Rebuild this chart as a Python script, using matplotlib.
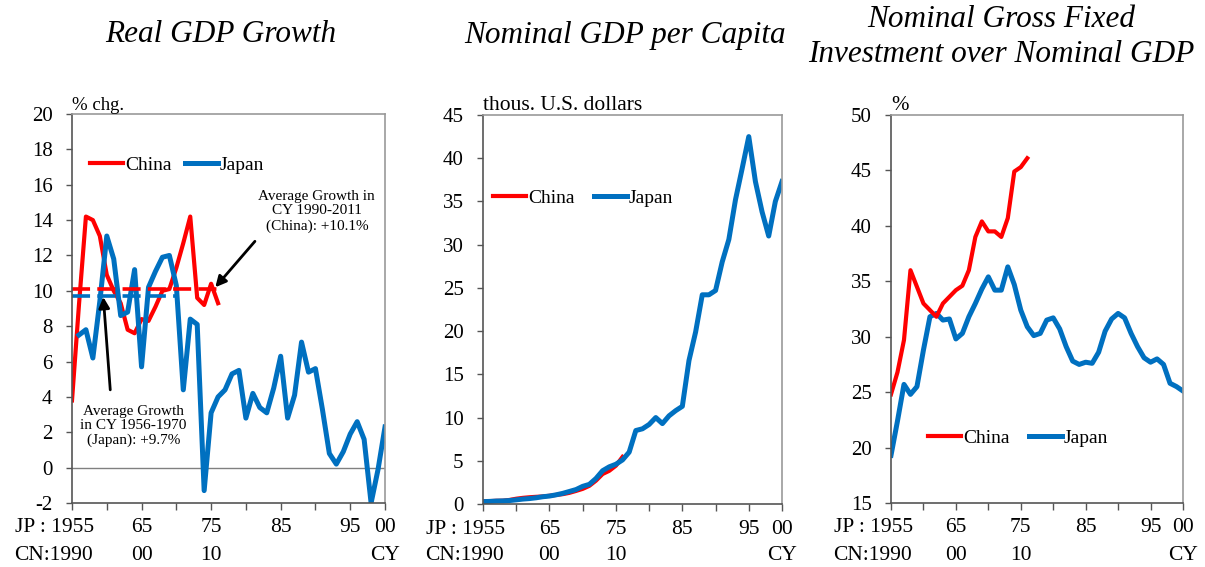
import numpy as np
import matplotlib
matplotlib.use("Agg")
import matplotlib.pyplot as plt
import matplotlib.transforms as mtransforms

plt.rcParams['font.family'] = ['Liberation Serif', 'DejaVu Serif']

# ---------------- data ----------------
jp_years = list(range(1955, 2001))
cn_years = list(range(1990, 2012))
cn_offset = 35  # China year 1990 aligned with Japan year 1955

jp_growth_years = list(range(1956, 2001))
jp_growth = [7.5, 7.8, 6.2, 9.4, 13.1, 11.8, 8.6, 8.8, 11.2, 5.7,
             10.2, 11.1, 11.9, 12.0, 10.3, 4.4, 8.4, 8.1, -1.3, 3.1,
             4.0, 4.4, 5.3, 5.5, 2.8, 4.2, 3.4, 3.1, 4.5, 6.3,
             2.8, 4.1, 7.1, 5.4, 5.6, 3.3, 0.8, 0.2, 0.9, 1.9,
             2.6, 1.6, -2.0, -0.1, 2.3]
cn_growth = [3.8, 9.2, 14.2, 14.0, 13.1, 10.9, 10.0, 9.3, 7.8, 7.6,
             8.4, 8.3, 9.1, 10.0, 10.1, 11.3, 12.7, 14.2, 9.6, 9.2,
             10.4, 9.3]
cn_avg = 10.1
jp_avg = 9.7
cn_avg_span = [1990, 2011]
jp_avg_span = [1955, 1970]

jp_gdppc = [0.27, 0.30, 0.34, 0.36, 0.40, 0.48, 0.57, 0.63, 0.72, 0.84,
            0.92, 1.06, 1.23, 1.45, 1.67, 2.04, 2.27, 2.95, 3.85, 4.30,
            4.60, 5.10, 6.00, 8.50, 8.70, 9.20, 10.0, 9.30, 10.2, 10.8,
            11.3, 16.6, 19.9, 24.2, 24.2, 24.7, 28.0, 30.6, 35.2, 38.8,
            42.5, 37.3, 33.8, 31.0, 35.0, 37.3]
cn_gdppc = [0.32, 0.33, 0.37, 0.38, 0.47, 0.61, 0.71, 0.78, 0.83, 0.87,
            0.95, 1.05, 1.14, 1.29, 1.51, 1.75, 2.10, 2.70, 3.47, 3.84,
            4.43, 5.45]

jp_inv = [19.3, 22.4, 25.7, 24.8, 25.5, 28.8, 31.8, 32.1, 31.5, 31.6,
          29.8, 30.3, 31.8, 33.0, 34.3, 35.4, 34.2, 34.2, 36.3, 34.7,
          32.4, 30.9, 30.1, 30.3, 31.5, 31.7, 30.7, 29.1, 27.8, 27.5,
          27.7, 27.6, 28.6, 30.5, 31.6, 32.1, 31.7, 30.3, 29.1, 28.1,
          27.7, 28.0, 27.5, 25.8, 25.5, 25.1]
cn_inv = [24.8, 26.8, 29.7, 36.0, 34.5, 33.0, 32.4, 31.8, 33.0, 33.6,
          34.2, 34.6, 36.0, 39.0, 40.4, 39.5, 39.5, 39.0, 40.7, 44.9,
          45.3, 46.1]

titles = ["Real GDP Growth", "Nominal GDP per Capita",
          "Nominal Gross Fixed\nInvestment over Nominal GDP"]
units = ["% chg.", "thous. U.S. dollars", "%"]
unit_sizes = [13.5, 15.5, 15]
jp_row = ["JP : 1955", "65", "75", "85", "95", "00"]
jp_row_pos = [1955, 1965, 1975, 1985, 1995, 2000]
cn_row = ["CN:1990", "00", "10", "CY"]
cn_row_pos = [1955, 1965, 1975, 2000]

RED = '#FF0000'
BLUE = '#0070C0'

W, H = 1205, 567
fig = plt.figure(figsize=(W / 100, H / 100), dpi=100)

def px_axes(l, t, r, b):
    return fig.add_axes([l / W, 1 - b / H, (r - l) / W, (b - t) / H])

ax1 = px_axes(72, 114, 385, 503)
ax2 = px_axes(483, 115, 782, 504)
ax3 = px_axes(891, 115, 1183, 503)

cn_x = [y - cn_offset for y in cn_years]

def style(ax, ylim, yticks, unit, usize, title_xy, title):
    ax.set_xlim(1955, 2000)
    ax.set_ylim(*ylim)
    ax.set_yticks(yticks)
    ax.set_yticklabels([str(v) for v in yticks], fontsize=15)
    ax.set_xticks(list(range(1955, 2001, 5)))
    ax.set_xticklabels([])
    ax.tick_params(axis='y', direction='out', length=4, width=1, pad=10, color='#555555')
    ax.tick_params(axis='x', direction='out', length=5, width=1, color='#555555')
    for s in ['left', 'bottom']:
        ax.spines[s].set_color('#555555')
        ax.spines[s].set_linewidth(1.2)
    for s in ['top', 'right']:
        ax.spines[s].set_color('#999999')
        ax.spines[s].set_linewidth(1.2)
    ax.text(0.0, 1.0, unit, transform=ax.transAxes, ha='left', va='bottom',
            fontsize=usize)
    trans = mtransforms.blended_transform_factory(ax.transData, ax.transAxes)
    for lab, pos in zip(jp_row, jp_row_pos):
        if pos == 1955:
            ax.annotate(lab, xy=(pos, 0), xycoords=trans, xytext=(22, -25),
                        textcoords='offset pixels', ha='right', va='center', fontsize=15.5)
        else:
            ax.annotate(lab, xy=(pos, 0), xycoords=trans, xytext=(0, -25),
                        textcoords='offset pixels', ha='center', va='center', fontsize=15.5)
    for lab, pos in zip(cn_row, cn_row_pos):
        if pos == 1955:
            ax.annotate(lab, xy=(pos, 0), xycoords=trans, xytext=(21, -52),
                        textcoords='offset pixels', ha='right', va='center', fontsize=15.5)
        else:
            ax.annotate(lab, xy=(pos, 0), xycoords=trans, xytext=(0, -52),
                        textcoords='offset pixels', ha='center', va='center', fontsize=15.5)
    fig.text(title_xy[0] / W, 1 - title_xy[1] / H, title, ha='center', va='center',
             fontsize=22.5, style='italic', linespacing=1.25)

# ---- panel 1 ----
ax1.axhline(0, color='#808080', lw=1)
ax1.plot(cn_x, cn_growth, color=RED, lw=3, label='China', solid_joinstyle='round')
ax1.plot(jp_growth_years, jp_growth, color=BLUE, lw=3.6, label='Japan', solid_joinstyle='round')
ax1.plot([s - cn_offset for s in cn_avg_span], [cn_avg, cn_avg], color=RED, lw=2.6,
         dashes=(5, 2))
ax1.plot(jp_avg_span, [jp_avg, jp_avg], color=BLUE, lw=2.6, dashes=(5, 2))
style(ax1, (-2, 20), list(range(-2, 21, 2)), units[0], unit_sizes[0], (221, 35), titles[0])
ax1.text(1990.2, 14.5, "Average Growth in\nCY 1990-2011\n(China): +10.1%",
         ha='center', va='center', fontsize=11, linespacing=1.15)
ax1.annotate("", xy=(1975.6, 10.2), xytext=(1981.3, 12.8),
             arrowprops=dict(arrowstyle='-|>', color='black', lw=2, mutation_scale=16,
                             shrinkA=0, shrinkB=0))
ax1.text(1963.8, 2.35, "Average Growth\nin CY 1956-1970\n(Japan): +9.7%",
         ha='center', va='center', fontsize=11, linespacing=1.15)
ax1.annotate("", xy=(1959.5, 9.65), xytext=(1960.5, 4.4),
             arrowprops=dict(arrowstyle='-|>', color='black', lw=2, mutation_scale=16,
                             shrinkA=0, shrinkB=0))
ax1.legend(loc='center left', bbox_to_anchor=(0.0575, 0.869), frameon=False,
           ncol=2, fontsize=14, handlelength=1.7, handletextpad=0.1,
           columnspacing=0.7, borderpad=0, borderaxespad=0)

# ---- panel 2 ----
ax2.plot(cn_x, cn_gdppc, color=RED, lw=3, label='China')
ax2.plot(jp_years, jp_gdppc, color=BLUE, lw=3.6, label='Japan')
style(ax2, (0, 45), list(range(0, 46, 5)), units[1], unit_sizes[1], (625, 35), titles[1])
ax2.legend(loc='center left', bbox_to_anchor=(0.033, 0.787), frameon=False,
           ncol=2, fontsize=14, handlelength=1.7, handletextpad=0.1,
           columnspacing=1.0, borderpad=0, borderaxespad=0)

# ---- panel 3 ----
ax3.plot(jp_years, jp_inv, color=BLUE, lw=3.6, label='Japan')
ax3.plot(cn_x, cn_inv, color=RED, lw=3, label='China')
style(ax3, (15, 50), list(range(15, 51, 5)), units[2], unit_sizes[2], (1001, 37), titles[2])
h, l = ax3.get_legend_handles_labels()
ax3.legend(h[::-1], l[::-1], loc='center left', bbox_to_anchor=(0.127, 0.1675), frameon=False,
           ncol=2, fontsize=14, handlelength=1.7, handletextpad=0.1,
           columnspacing=1.0, borderpad=0, borderaxespad=0)

fig.savefig('out.png', dpi=100)
